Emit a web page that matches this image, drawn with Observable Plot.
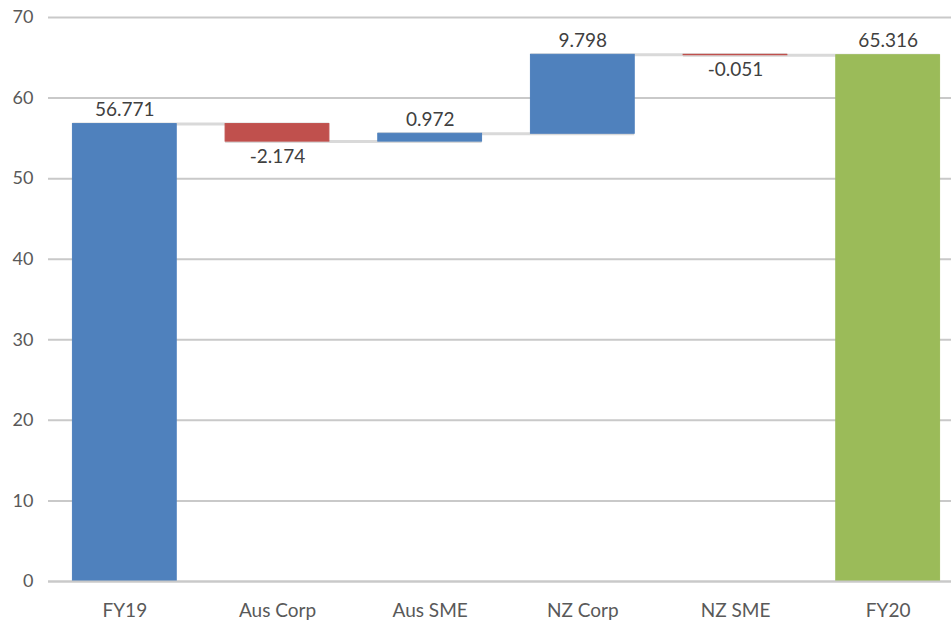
<!DOCTYPE html>
<html>
<head>
<meta charset="utf-8">
<script src="https://cdn.jsdelivr.net/npm/d3@7"></script>
<script src="https://cdn.jsdelivr.net/npm/@observablehq/plot@0.6"></script>
<style>
  html, body { margin: 0; padding: 0; background: #fff; }
  #chart svg { display: block; }
</style>
</head>
<body>
<div id="chart"></div>
<script>
const categories = ["FY19", "Aus Corp", "Aus SME", "NZ Corp", "NZ SME", "FY20"];
const values = [56.771, -2.174, 0.972, 9.798, -0.051, 65.316];
const kinds = ["total", "delta", "delta", "delta", "delta", "final"];
const yTicks = [0, 10, 20, 30, 40, 50, 60, 70];

const colorDomain = ["total", "up", "down", "final"];
const colorRange = ["#4f81bd", "#4f81bd", "#c0504d", "#9bbb59"];

// Build waterfall table
let run = 0;
const data = categories.map((c, i) => {
  const v = values[i];
  let start, end, type;
  if (kinds[i] === "delta") {
    start = run; end = run + v; run = end;
    type = v >= 0 ? "up" : "down";
  } else {
    start = 0; end = v; run = v;
    type = kinds[i];
  }
  return {cat: c, value: v, start, end, type, top: Math.max(start, end), bottom: Math.min(start, end), label: v.toFixed(3)};
});
const connectors = data.slice(0, -1).map((d, i) => ({a: d.cat, b: data[i + 1].cat, y: d.end}));

const fontFamily = "Lato, 'Open Sans', sans-serif";

const chart = Plot.plot({
  width: 951,
  height: 621,
  marginTop: 17,
  marginBottom: 40,
  marginLeft: 48,
  marginRight: 0,
  style: {fontFamily, fontSize: "18px", background: "#fff", overflow: "visible"},
  x: {domain: categories, range: [48, 964], paddingInner: 0.32, paddingOuter: 0.16, round: false, axis: null},
  y: {domain: [0, 70], range: [581, 17], axis: null},
  color: {domain: colorDomain, range: colorRange},
  marks: [
    Plot.gridY(yTicks, {stroke: "#c9c9c9", strokeOpacity: 1, strokeWidth: 2}),
    Plot.ruleX([0], {x: () => 0, y1: 0, y2: 70, stroke: "#cfcfcf", strokeWidth: 2, render: (i, s, v, dims, ctx, next) => {
      const g = next(i, s, v, dims, ctx);
      d3.select(g).selectAll("line").attr("x1", 48).attr("x2", 48);
      return g;
    }}),
    Plot.ruleY(connectors, {x1: "a", x2: "b", y: "y", stroke: "#d9d9d9", strokeWidth: 3}),
    Plot.barY(data, {x: "cat", y1: "start", y2: "end", fill: "type", stroke: "type", strokeWidth: 1}),
    Plot.ruleY([0], {stroke: "#c9c9c9", strokeWidth: 2}),
    Plot.axisY(yTicks, {tickSize: 0, tickPadding: 15, fill: "#595959", fontSize: 18, fontFamily}),
    Plot.axisX({tickSize: 0, tickPadding: 22, fill: "#595959", fontSize: 19, fontFamily}),
    Plot.text(data.filter(d => d.value >= 0), {x: "cat", y: "top", text: "label", dy: -14, fill: "#404040", fontSize: 19, fontFamily}),
    Plot.text(data.filter(d => d.value < 0), {x: "cat", y: "bottom", text: "label", dy: 15, fill: "#404040", fontSize: 19, fontFamily})
  ]
});
document.getElementById("chart").appendChild(chart);
</script>
</body>
</html>
